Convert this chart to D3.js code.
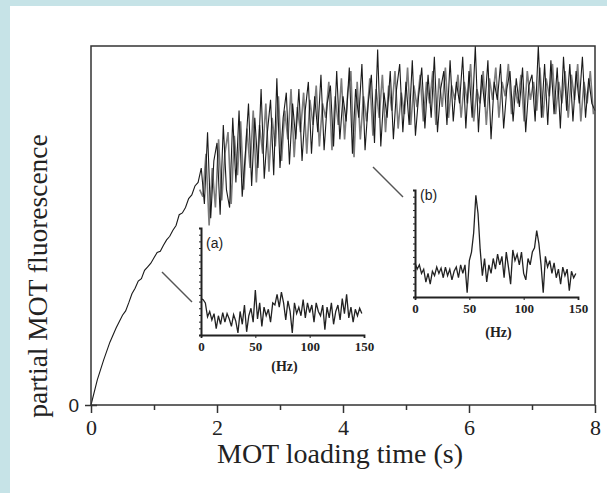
<!DOCTYPE html>
<html>
<head>
<meta charset="utf-8">
<script src="https://cdn.jsdelivr.net/npm/d3@7"></script>
<style>
body{margin:0;background:#c6e3e7;}
svg{display:block;}
</style>
</head>
<body>
<div class="chart"></div>
<script>
// rising part of the loading curve (time in s, fluorescence in arb. units)
const riseTime=[0,0.1,0.2,0.3,0.4,0.5,0.55,0.6,0.65,0.7,0.75,0.8,0.85,0.9,0.95,1.0,1.05,1.1,1.15,1.2,1.25,1.3,1.35,1.4,1.45,1.5,1.55,1.6,1.65]
const riseValue=[0,0.07,0.125,0.175,0.215,0.25,0.262,0.285,0.31,0.325,0.345,0.352,0.375,0.385,0.395,0.41,0.425,0.428,0.445,0.46,0.47,0.487,0.50,0.53,0.535,0.55,0.575,0.585,0.61]

// oscillating part, sampled every 0.05 s
const oscStart=1.70, oscStep=0.05
const blackTrace=[0.62,0.66,0.56,0.76,0.52,0.68,0.73,0.53,0.78,0.60,0.55,0.80,0.62,0.82,0.58,0.70,0.84,0.61,0.80,0.66,
	0.88,0.63,0.76,0.85,0.64,0.91,0.66,0.80,0.87,0.67,0.84,0.74,0.88,0.68,0.82,0.90,0.70,0.86,0.76,0.92,
	0.71,0.84,0.89,0.72,0.93,0.74,0.86,0.79,0.94,0.70,0.88,0.80,0.95,0.71,0.84,0.92,0.73,0.99,0.72,0.87,
	0.80,0.93,0.74,0.88,0.95,0.76,0.90,0.78,0.96,0.75,0.86,0.94,0.77,0.92,0.80,0.97,0.76,0.88,0.93,0.78,
	0.96,0.79,0.90,0.84,0.97,0.77,0.93,0.80,1.00,0.76,0.92,0.83,0.96,0.74,0.90,0.85,0.95,0.77,0.88,0.93,
	0.79,0.91,0.83,0.94,0.76,0.89,0.92,0.79,1.00,0.80,0.95,0.78,0.96,0.81,0.94,0.77,0.97,0.82,0.95,0.79,
	0.93,0.84,0.97,0.80,0.91,0.84,0.82]
const grayStart=1.725
const grayTrace=[0.60,0.58,0.70,0.50,0.66,0.55,0.74,0.57,0.70,0.76,0.56,0.75,0.64,0.79,0.60,0.77,0.66,0.82,0.62,0.78,
	0.70,0.84,0.65,0.80,0.72,0.86,0.68,0.82,0.74,0.88,0.69,0.83,0.76,0.87,0.70,0.85,0.78,0.89,0.72,0.84,
	0.80,0.90,0.71,0.86,0.78,0.91,0.74,0.87,0.93,0.69,0.90,0.74,0.86,0.79,0.91,0.75,0.88,0.80,0.92,0.76,
	0.89,0.82,0.93,0.77,0.87,0.81,0.94,0.78,0.89,0.83,0.92,0.79,0.90,0.84,0.93,0.78,0.91,0.83,0.94,0.80,
	0.89,0.85,0.92,0.80,0.90,0.84,0.95,0.79,0.88,0.84,0.93,0.78,0.91,0.85,0.94,0.80,0.90,0.86,0.95,0.81,
	0.89,0.84,0.92,0.79,0.93,0.85,0.90,0.82,0.94,0.80,0.91,0.86,0.95,0.81,0.90,0.84,0.93,0.80,0.92,0.85,
	0.95,0.79,0.90,0.84,0.93,0.81]

// spectra of the insets, every 2 Hz from 0 to 148 Hz
const hzStep=2
const spectrumA=[0.34,0.33,0.30,0.17,0.22,0.14,0.20,0.06,0.18,0.10,0.21,0.12,0.20,0.15,0.08,0.19,0.13,0.02,0.22,0.10,
	0.28,0.03,0.18,0.25,0.12,0.42,0.15,0.30,0.08,0.26,0.18,0.24,0.12,0.30,0.28,0.38,0.26,0.40,0.30,0.14,
	0.32,0.22,0.02,0.30,0.20,0.26,0.18,0.33,0.16,0.30,0.21,0.28,0.12,0.30,0.22,0.18,0.28,0.05,0.26,0.16,
	0.30,0.10,0.22,0.28,0.14,0.34,0.20,0.38,0.16,0.26,0.12,0.24,0.18,0.25,0.20]
const spectrumB=[0.32,0.26,0.30,0.22,0.26,0.14,0.22,0.12,0.24,0.20,0.28,0.22,0.27,0.18,0.28,0.20,0.26,0.16,0.24,0.28,
	0.18,0.30,0.22,0.30,0.04,0.34,0.42,0.60,0.95,0.78,0.44,0.20,0.36,0.14,0.30,0.22,0.36,0.26,0.40,0.30,
	0.38,0.18,0.42,0.28,0.12,0.44,0.34,0.40,0.30,0.42,0.22,0.16,0.36,0.30,0.42,0.46,0.62,0.50,0.30,0.04,
	0.38,0.28,0.34,0.22,0.32,0.18,0.26,0.12,0.28,0.20,0.26,0.06,0.24,0.18,0.22]

const xTicks=[0,2,4,6,8]
const xMinor=[1,3,5,7]
const hzTicks=[0,50,100,150]

const W=607,H=493
const svg=d3.select('.chart').append('svg')
	.attr('width',W)
	.attr('height',H)

svg.append('rect')
	.attr('x',10).attr('y',6)
	.attr('width',W-10).attr('height',H-6)
	.attr('fill','#fff')

const serif='"Liberation Serif","Times New Roman",serif'
const sans='"Liberation Sans",Arial,sans-serif'

const x=d3.scaleLinear().domain([0,8]).range([91,595])
const y=d3.scaleLinear().domain([0,1]).range([405,46])

// main traces
const riseData=riseTime.map((t,i)=>[t,riseValue[i]])
const blackData=riseData.concat(blackTrace.map((v,i)=>[oscStart+i*oscStep,v]))
const grayData=grayTrace.map((v,i)=>[grayStart+i*oscStep,v])

const line=d3.line().x(d=>x(d[0])).y(d=>y(d[1]))

svg.append('path')
	.datum(grayData)
	.attr('d',line)
	.attr('fill','none')
	.attr('stroke','#7c7c7c')
	.attr('stroke-width',1.6)

svg.append('path')
	.datum(blackData)
	.attr('d',line)
	.attr('fill','none')
	.attr('stroke','#1a1a1a')
	.attr('stroke-width',1.1)

// frame
svg.append('rect')
	.attr('x',x(0)).attr('y',y(1))
	.attr('width',x(8)-x(0)).attr('height',y(0)-y(1))
	.attr('fill','none')
	.attr('stroke','#333')
	.attr('stroke-width',1.5)

const xAxis=svg.append('g')
	.attr('transform',`translate(0,${y(0)})`)
	.call(d3.axisBottom(x).tickValues(xTicks).tickSize(8).tickPadding(6).tickFormat(d3.format('d')))
xAxis.select('.domain').remove()
xAxis.selectAll('line').attr('stroke','#333').attr('stroke-width',1.5)
xAxis.selectAll('text').attr('font-family',serif).attr('font-size',22).attr('fill','#222')

const xAxisMinor=svg.append('g')
	.attr('transform',`translate(0,${y(0)})`)
	.call(d3.axisBottom(x).tickValues(xMinor).tickSize(5).tickFormat(''))
xAxisMinor.select('.domain').remove()
xAxisMinor.selectAll('line').attr('stroke','#333').attr('stroke-width',1.5)

const yAxis=svg.append('g')
	.attr('transform',`translate(${x(0)},0)`)
	.call(d3.axisLeft(y).tickValues([0]).tickSize(6).tickPadding(6).tickFormat(d3.format('d')))
yAxis.select('.domain').remove()
yAxis.selectAll('line').attr('x2',-6).attr('x1',6).attr('stroke','#333').attr('stroke-width',1.5)
yAxis.selectAll('text').attr('font-family',sans).attr('font-size',19).attr('fill','#222')

svg.append('text')
	.attr('x',(x(0)+x(8))/2-3)
	.attr('y',463)
	.attr('text-anchor','middle')
	.attr('font-family',serif)
	.attr('font-size',28)
	.attr('fill','#222')
	.text('MOT loading time (s)')

svg.append('text')
	.attr('transform','translate(47,276) rotate(-90)')
	.attr('text-anchor','middle')
	.attr('font-family',serif)
	.attr('font-size',27.5)
	.attr('fill','#222')
	.text('partial MOT fluorescence')

// insets
function inset(values,x0,x1,y0,y1,name,nameY,hzY,lead){
	const sx=d3.scaleLinear().domain([0,150]).range([x0,x1])
	const sy=d3.scaleLinear().domain([0,1]).range([y0,y1])
	const g=svg.append('g')

	g.append('line')
		.attr('x1',lead[0]).attr('y1',lead[1])
		.attr('x2',lead[2]).attr('y2',lead[3])
		.attr('stroke','#555').attr('stroke-width',1.5)

	g.append('path')
		.datum(values.map((v,i)=>[i*hzStep,v]))
		.attr('d',d3.line().x(d=>sx(d[0])).y(d=>sy(d[1])))
		.attr('fill','none')
		.attr('stroke','#222')
		.attr('stroke-width',1.3)

	const ax=g.append('g')
		.attr('transform',`translate(0,${y0})`)
		.call(d3.axisBottom(sx).tickValues(hzTicks).tickSize(3).tickPadding(4))
	ax.select('.domain').attr('stroke','#222').attr('stroke-width',1.8)
	ax.selectAll('line').attr('stroke','#222')
	ax.selectAll('text').attr('font-family',serif).attr('font-weight','bold')
		.attr('font-size',13).attr('fill','#222')

	const ay=g.append('g')
		.attr('transform',`translate(${x0},0)`)
		.call(d3.axisLeft(sy).tickValues(d3.range(0,1.01,1/16)).tickSize(2).tickFormat(''))
	ay.select('.domain').attr('stroke','#222').attr('stroke-width',2)
	ay.selectAll('line').attr('stroke','#222')

	g.append('text')
		.attr('x',(x0+x1)/2+2)
		.attr('y',hzY)
		.attr('text-anchor','middle')
		.attr('font-family',serif)
		.attr('font-weight','bold')
		.attr('font-size',14)
		.attr('fill','#222')
		.text('(Hz)')

	g.append('text')
		.attr('x',x0+5)
		.attr('y',nameY)
		.attr('font-family',sans)
		.attr('font-size',14)
		.attr('fill','#222')
		.text(name)
}

inset(spectrumA,201,364,335,228,'(a)',248,371,[162,272,192,302])
inset(spectrumB,415,578,297,190,'(b)',200,337,[373,167,403,197])
</script>
</body>
</html>
